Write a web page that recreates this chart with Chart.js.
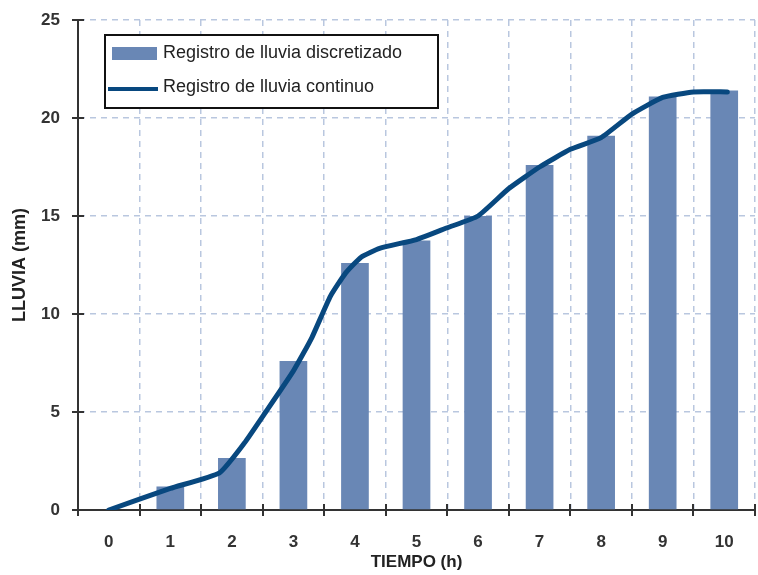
<!DOCTYPE html>
<html><head><meta charset="utf-8">
<script src="https://cdn.jsdelivr.net/npm/chart.js@4.4.1/dist/chart.umd.min.js"></script>
<style>html,body{margin:0;padding:0;background:#fff}#wrap{width:758px;height:575px}</style>
</head><body><div id="wrap"><canvas id="c" width="758" height="575"></canvas></div>
<script>
const barHours = [1,2,3,4,5,6,7,8,9,10];
const barRain = [1.2,2.65,7.6,12.6,13.75,15.0,17.6,19.1,21.1,21.4];
const lineHours = [0,1,1.8,2.2,2.55,3.0,3.3,3.6,3.85,4.1,4.4,5.0,5.5,6.0,6.5,7.0,7.5,8.0,8.5,9.0,9.5,10.05];
const lineRain = [0,1.1,1.9,3.4,5.0,7.1,8.8,10.9,12.1,12.9,13.35,13.8,14.4,15.0,16.4,17.5,18.4,19.0,20.2,21.05,21.33,21.33];
const yTicks = [0,5,10,15,20,25];
const labelBars = 'Registro de lluvia discretizado';
const labelLine = 'Registro de lluvia continuo';
const barColor = '#6987b5';
const lineColor = '#08487f';
const gridColor = '#b9c7df';
const axisColor = '#333333';

const FONT = '"Liberation Sans", Arial, sans-serif';

const extras = {
  id: 'extras',
  afterDraw(chart) {
    const ctx = chart.ctx, xs = chart.scales.x, ys = chart.scales.y;
    ctx.save();
    ctx.strokeStyle = axisColor; ctx.lineWidth = 2;
    yTicks.forEach(v => {
      const py = Math.round(ys.getPixelForValue(v));
      ctx.beginPath(); ctx.moveTo(xs.left - 6, py); ctx.lineTo(xs.left + 6, py); ctx.stroke();
    });
    for (let h = -0.5; h <= 10.5; h += 1) {
      const px = Math.round(xs.getPixelForValue(h));
      ctx.beginPath(); ctx.moveTo(px, ys.bottom - 6); ctx.lineTo(px, ys.bottom + 6); ctx.stroke();
    }
    const lx = 105, ly = 35, lw = 333, lh = 73;
    ctx.fillStyle = '#fff'; ctx.fillRect(lx, ly, lw, lh);
    ctx.strokeStyle = '#111'; ctx.lineWidth = 2; ctx.strokeRect(lx, ly, lw, lh);
    ctx.fillStyle = barColor; ctx.fillRect(112, 47, 45, 13);
    ctx.strokeStyle = lineColor; ctx.lineWidth = 4;
    ctx.beginPath(); ctx.moveTo(108, 89); ctx.lineTo(158, 89); ctx.stroke();
    ctx.fillStyle = '#222'; ctx.font = '18px ' + FONT; ctx.textBaseline = 'middle'; ctx.textAlign = 'left';
    ctx.fillText(chart.data.datasets[0].label, 163, 53);
    ctx.fillText(chart.data.datasets[1].label, 163, 87);
    ctx.restore();
  }
};

new Chart(document.getElementById('c'), {
  data: {
    datasets: [
      { type: 'bar', label: labelBars, data: barHours.map((h,i)=>({x:h,y:barRain[i]})),
        backgroundColor: barColor, barPercentage: 0.9, categoryPercentage: 1.0, order: 2 },
      { type: 'line', label: labelLine, data: lineHours.map((h,i)=>({x:h,y:lineRain[i]})),
        borderColor: lineColor, borderWidth: 5, pointRadius: 0, fill: false, tension: 0.15,
        borderCapStyle: 'round', borderJoinStyle: 'round', order: 1 }
    ]
  },
  options: {
    responsive: false, animation: false,
    layout: { padding: { top: 20, right: 3, left: 0, bottom: 0 } },
    plugins: { legend: { display: false }, tooltip: { enabled: false } },
    scales: {
      x: {
        type: 'linear', min: -0.5, max: 10.5, offset: false,
        afterBuildTicks(s) { const t = []; for (let h = -0.5; h <= 10.5; h += 0.5) t.push({ value: h }); s.ticks = t; },
        afterFit(s) { s.height = 65; s.paddingLeft = 0; s.paddingRight = 0; },
        ticks: { autoSkip: false, maxRotation: 0, padding: 22, color: '#333',
          font: { family: FONT, size: 17, weight: 'bold' },
          callback: v => (Number.isInteger(v) ? String(v) : '') },
        grid: { drawTicks: false, lineWidth: 1.5, offset: false,
          color: c => (c.tick && Number.isInteger(c.tick.value)) ? 'rgba(0,0,0,0)' : gridColor },
        border: { display: true, color: axisColor, width: 2, dash: [6, 5] },
        title: { display: true, text: 'TIEMPO (h)', color: '#222', padding: { top: 0, bottom: 2 },
          font: { family: FONT, size: 17, weight: 'bold' } }
      },
      y: {
        type: 'linear', min: 0, max: 25,
        afterBuildTicks(s) { s.ticks = yTicks.map(v => ({ value: v })); },
        afterFit(s) { s.width = 78; s.paddingTop = 0; s.paddingBottom = 0; },
        ticks: { padding: 18, color: '#333', font: { family: FONT, size: 17, weight: 'bold' } },
        grid: { drawTicks: false, color: gridColor, lineWidth: 1.5 },
        border: { display: true, color: axisColor, width: 2, dash: [6, 5] },
        title: { display: true, text: 'LLUVIA (mm)', color: '#222', padding: { top: 9, bottom: 0 },
          font: { family: FONT, size: 18, weight: 'bold' } }
      }
    }
  },
  plugins: [extras]
});
</script></body></html>
